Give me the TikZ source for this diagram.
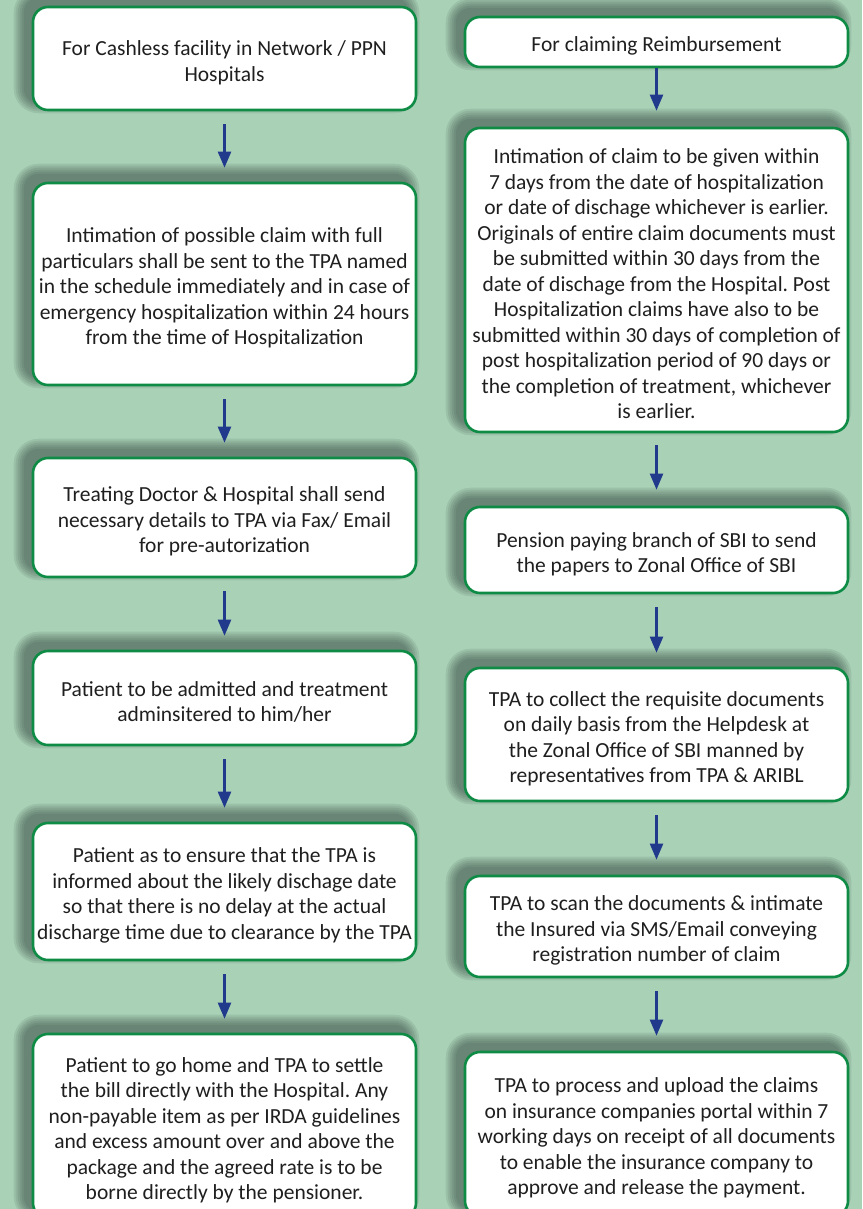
\documentclass[tikz,border=0pt]{standalone}
\usepackage{fontspec}
\setmainfont{Carlito}
\frenchspacing
\usetikzlibrary{arrows.meta}
\pgfdeclarelayer{bglayer}
\pgfdeclarelayer{shadowlayer}
\pgfsetlayers{bglayer,shadowlayer,main}
\definecolor{bgc}{HTML}{A8D1B6}
\definecolor{borderc}{HTML}{0E8C45}
\definecolor{arrowc}{HTML}{213A8C}
\definecolor{textc}{HTML}{1F1F1F}
\definecolor{shadowc}{HTML}{1E2A24}
\newcommand{\tstrut}{\rule{0pt}{23pt}}
\begin{document}
\begin{tikzpicture}[x=1pt,y=-1pt,
  stepbox/.style={draw=borderc, line width=2.6pt, fill=white, rounded corners=15pt,
    minimum width=383pt, inner sep=0pt, align=center, text=textc,
    font=\fontsize{21.5}{25.5}\selectfont},
  arr/.style={draw=arrowc, line width=2.2pt, -{Triangle[width=13pt,length=16pt]},
    shorten <=13pt, shorten >=14pt}]
\begin{pgfonlayer}{bglayer}
\fill[bgc] (0,0) rectangle (862,1209);
\end{pgfonlayer}
\useasboundingbox (0,0) rectangle (862,1209);

% left column
\node[stepbox, minimum height=103pt] (L1) at (224.5,58.5) {\tstrut For Cashless facility in Network / PPN\\Hospitals};
\node[stepbox, minimum height=202pt] (L2) at (224.5,284) {\tstrut Intimation of possible claim with full\\particulars shall be sent to the TPA named\\in the schedule immediately and in case of\\emergency hospitalization within 24 hours\\from the time of Hospitalization};
\node[stepbox, minimum height=119pt] (L3) at (224.5,517.5) {\tstrut Treating Doctor \& Hospital shall send\\necessary details to TPA via Fax/ Email\\for pre-autorization};
\node[stepbox, minimum height=94pt] (L4) at (224.5,698) {\tstrut Patient to be admitted and treatment\\adminsitered to him/her};
\node[stepbox, minimum height=137pt] (L5) at (224.5,891.5) {\tstrut Patient as to ensure that the TPA is\\informed about the likely dischage date\\so that there is no delay at the actual\\discharge time due to clearance by the TPA};
\node[stepbox, minimum height=184pt] (L6) at (224.5,1126) {\tstrut Patient to go home and TPA to settle\\the bill directly with the Hospital. Any\\non-payable item as per IRDA guidelines\\and excess amount over and above the\\package and the agreed rate is to be\\borne directly by the pensioner.};

% right column
\node[stepbox, minimum height=50pt] (R1) at (656.5,42) {\tstrut For claiming Reimbursement};
\node[stepbox, minimum height=304pt] (R2) at (656.5,280) {\tstrut Intimation of claim to be given within\\7 days from the date of hospitalization\\or date of dischage whichever is earlier.\\Originals of entire claim documents must\\be submitted within 30 days from the\\date of dischage from the Hospital. Post\\Hospitalization claims have also to be\\submitted within 30 days of completion of\\post hospitalization period of 90 days or\\the completion of treatment, whichever\\is earlier.};
\node[stepbox, minimum height=86pt] (R3) at (656.5,550) {\tstrut Pension paying branch of SBI to send\\the papers to Zonal Office of SBI};
\node[stepbox, minimum height=133pt] (R4) at (656.5,734.5) {\tstrut TPA to collect the requisite documents\\on daily basis from the Helpdesk at\\the Zonal Office of SBI manned by\\representatives from TPA \& ARIBL};
\node[stepbox, minimum height=101pt] (R5) at (656.5,926.5) {\tstrut TPA to scan the documents \& intimate\\the Insured via SMS/Email conveying\\registration number of claim};
\node[stepbox, minimum height=164pt] (R6) at (656.5,1134) {\tstrut TPA to process and upload the claims\\on insurance companies portal within 7\\working days on receipt of all documents\\to enable the insurance company to\\approve and release the payment.};

% shadows
\begin{pgfonlayer}{shadowlayer}
\foreach \n in {L1,L2,L3,L4,L5,L6,R1,R2,R3,R4,R5,R6}{
  \foreach \e in {0,2,...,10}{
    \pgfmathsetmacro{\rc}{15+\e}
    \fill[shadowc, opacity=0.09, rounded corners=\rc pt]
      ([xshift=-8pt-\e pt, yshift=8pt-\e pt]\n.south west) rectangle
      ([xshift=-8pt+\e pt, yshift=8pt+\e pt]\n.north east);
  }
}
\end{pgfonlayer}

% arrows
\draw[arr] (L1) -- (L2);
\draw[arr] (L2) -- (L3);
\draw[arr] (L3) -- (L4);
\draw[arr] (L4) -- (L5);
\draw[arr] (L5) -- (L6);
\draw[arr, shorten <=0pt, shorten >=16pt] (R1) -- (R2);
\draw[arr, shorten <=12pt, shorten >=16pt] (R2) -- (R3);
\draw[arr] (R3) -- (R4);
\draw[arr, shorten >=15pt] (R4) -- (R5);
\draw[arr, shorten >=15pt] (R5) -- (R6);
\end{tikzpicture}
\end{document}
